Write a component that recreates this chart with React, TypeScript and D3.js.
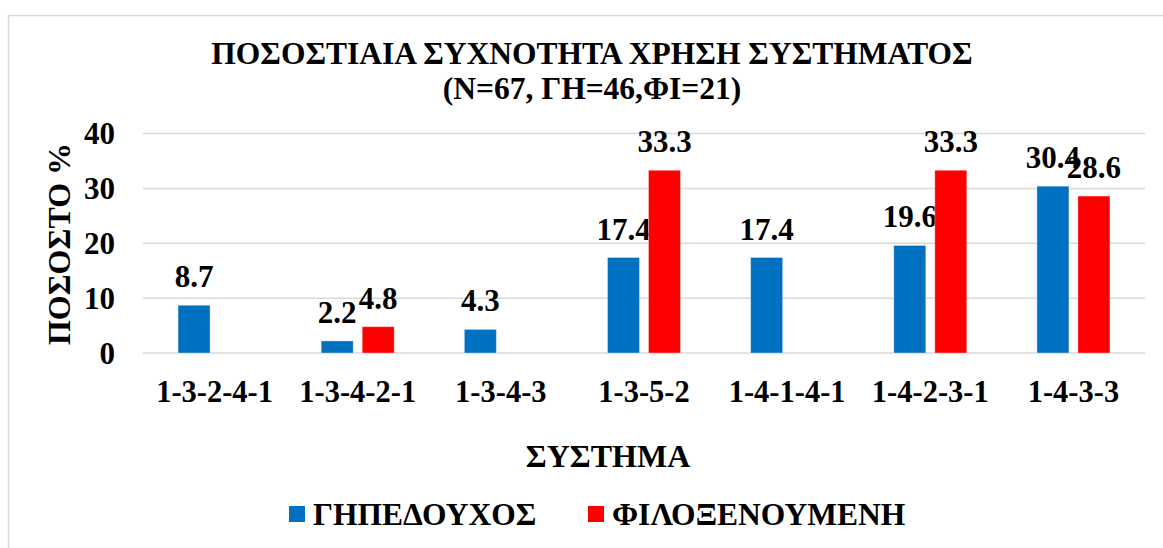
import React from "react";
import * as d3 from "d3";

const categories = ["1-3-2-4-1", "1-3-4-2-1", "1-3-4-3", "1-3-5-2", "1-4-1-4-1", "1-4-2-3-1", "1-4-3-3"];
const seriesNames = ["ΓΗΠΕΔΟΥΧΟΣ", "ΦΙΛΟΞΕΝΟΥΜΕΝΗ"];
const homeValues: (number | null)[] = [8.7, 2.2, 4.3, 17.4, 17.4, 19.6, 30.4];
const awayValues: (number | null)[] = [null, 4.8, null, 33.3, null, 33.3, 28.6];
const yTicks = [0, 10, 20, 30, 40];
const titleLines = ["ΠΟΣΟΣΤΙΑΙΑ ΣΥΧΝΟΤΗΤΑ ΧΡΗΣΗ ΣΥΣΤΗΜΑΤΟΣ", "(N=67, ΓΗ=46,ΦΙ=21)"];
const xTitle = "ΣΥΣΤΗΜΑ";
const yTitle = "ΠΟΣΟΣΤΟ %";

const colors = ["#0070c0", "#ff0000"];
const W = 1163;
const H = 548;
const FONT = "'Times New Roman', 'Liberation Serif', serif";

export default function App() {
  const plotLeft = 143;
  const plotRight = 1145;
  const y = d3.scaleLinear().domain([0, 40]).range([353, 133.5]);
  const x0 = d3.scaleBand<string>().domain(categories).range([plotLeft, plotRight]).padding(0);
  const step = x0.bandwidth();
  const barW = 32;
  const gap = 9;
  const s = barW + gap;
  const pi = gap / s;
  const po = (step / s - 2 + pi) / 2;
  const x1 = d3.scaleBand<string>().domain(seriesNames).range([0, step]).paddingInner(pi).paddingOuter(po);
  const series = [homeValues, awayValues];

  return (
    <svg width={W} height={H} style={{ position: "absolute", left: 0, top: 0, background: "#fff" }} fontFamily={FONT} fontWeight="bold">
      <rect x={8.5} y={15.5} width={1300} height={700} fill="#fff" stroke="#d9d9d9" strokeWidth={1.5} />
      {titleLines.map((t, i) => (
        <text key={i} x={592} y={64 + i * 35} textAnchor="middle" fontSize={31.5} fill="#000">{t}</text>
      ))}
      {yTicks.map((t) => (
        <g key={t}>
          <line x1={plotLeft} x2={plotRight} y1={y(t)} y2={y(t)} stroke="#d9d9d9" strokeWidth={1.5} />
          <text x={115} y={y(t)} dy="0.35em" textAnchor="end" fontSize={31} fill="#000">{t}</text>
        </g>
      ))}
      {series.map((vals, si) =>
        vals.map((v, ci) => {
          if (v === null) return null;
          const bx = (x0(categories[ci]) as number) + (x1(seriesNames[si]) as number);
          return (
            <g key={`${si}-${ci}`}>
              <rect x={bx} y={y(v)} width={x1.bandwidth()} height={y(0) - y(v)} fill={colors[si]} stroke="#ffffff" strokeOpacity={0.35} strokeWidth={1} />
              <text x={bx + x1.bandwidth() / 2} y={y(v) - 18} textAnchor="middle" fontSize={31} fill="#000">{v.toFixed(1)}</text>
            </g>
          );
        })
      )}
      {categories.map((c) => (
        <text key={c} x={(x0(c) as number) + step / 2} y={402} textAnchor="middle" fontSize={30.5} fill="#000">{c}</text>
      ))}
      <text x={608} y={467} textAnchor="middle" fontSize={32} fill="#000">{xTitle}</text>
      <text transform={`translate(70,244) rotate(-90)`} textAnchor="middle" fontSize={32} fill="#000">{yTitle}</text>
      {seriesNames.map((n, i) => {
        const lx = i === 0 ? 289 : 588;
        return (
          <g key={n}>
            <rect x={lx} y={506} width={16} height={16} fill={colors[i]} />
            <text x={lx + 24} y={525} fontSize={31.5} fill="#000">{n}</text>
          </g>
        );
      })}
    </svg>
  );
}
